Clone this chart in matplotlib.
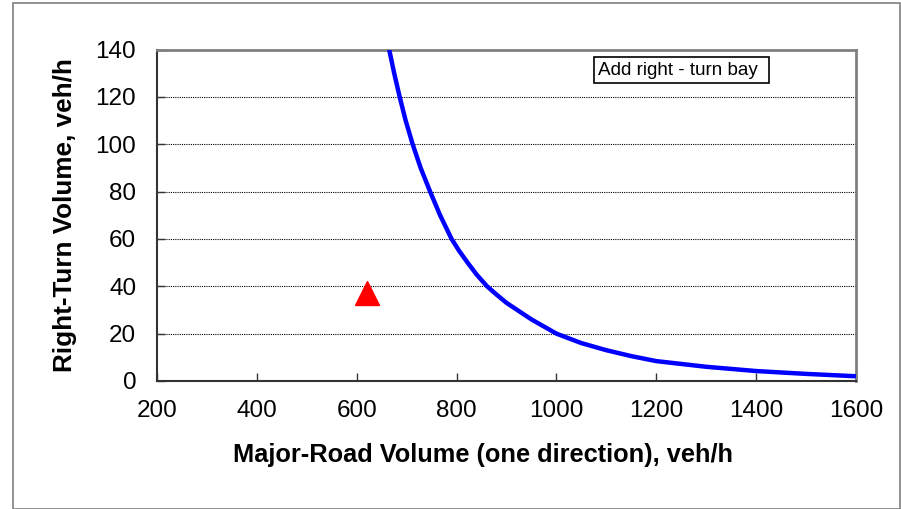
import matplotlib
matplotlib.use("Agg")
import matplotlib.pyplot as plt
from matplotlib.patches import Rectangle

plt.rcParams['font.family'] = ['Liberation Sans', 'DejaVu Sans']

# warrant curve
major_volume = [665, 675, 686, 698, 712, 728, 747, 767, 790, 805, 822, 840,
                861, 880, 900, 925, 950, 975, 1000, 1050, 1100, 1150, 1200,
                1300, 1400, 1500, 1600]
right_turn_volume = [140, 130, 120, 110, 100, 90, 80, 70, 60, 55, 50, 45,
                     40, 36.5, 33, 29.5, 26, 23, 20, 16, 13, 10.5, 8.4,
                     6.0, 4.2, 3.0, 2.0]

# observed site
site_major = [620]
site_right = [37]

x_ticks = [200, 400, 600, 800, 1000, 1200, 1400, 1600]
y_ticks = [0, 20, 40, 60, 80, 100, 120, 140]

fig = plt.figure(figsize=(9.01, 5.09), dpi=100)
ax = fig.add_axes([0.1743, 0.2515, 0.7757, 0.6512])

# outer chart frame
fig.patches.append(Rectangle((13 / 901, 0.0), 887 / 901, 1 - 3 / 509,
                             transform=fig.transFigure, fill=False,
                             edgecolor='#808080', linewidth=1.2))

ax.plot(major_volume, right_turn_volume, color='#0000FF', linewidth=3.2,
        solid_capstyle='butt', solid_joinstyle='round', zorder=3)
ax.plot(site_major, site_right, linestyle='none', marker='^', markersize=17,
        color='#FF0000', markeredgecolor='#FF0000', zorder=4)

ax.set_xlim(200, 1600)
ax.set_ylim(0, 140)
ax.set_xticks(x_ticks)
ax.set_yticks(y_ticks)
ax.tick_params(axis='both', direction='in', length=6, width=1,
               labelsize=17.5, color='#333333')
ax.tick_params(axis='x', pad=14)
ax.tick_params(axis='y', pad=15)

ax.yaxis.grid(True, color='black', linestyle=(0, (1, 1)), linewidth=0.8)
ax.set_axisbelow(True)

for side in ['left', 'bottom']:
    ax.spines[side].set_color('#333333')
    ax.spines[side].set_linewidth(1.5)
for side in ['top', 'right']:
    ax.spines[side].set_color('#808080')
    ax.spines[side].set_linewidth(2)

ax.set_xlabel('Major-Road Volume (one direction), veh/h',
              fontsize=18.3, fontweight='bold', va='center')
ax.set_ylabel('Right-Turn Volume, veh/h',
              fontsize=18.8, fontweight='bold', va='center')
ax.xaxis.set_label_coords(0.466, -0.223)
ax.yaxis.set_label_coords(-0.1316, 0.5)

# note box in the upper right
ax.add_patch(Rectangle(((594 - 157) / 699, (381 - 83) / 331.5),
                       175 / 699, 26 / 331.5, transform=ax.transAxes,
                       facecolor='white', edgecolor='black', linewidth=1.2,
                       zorder=5))
ax.text((598 - 157) / 699, (381 - 70) / 331.5, 'Add right - turn bay',
        transform=ax.transAxes, fontsize=13.6, ha='left', va='center',
        zorder=6)

fig.savefig('out.png', dpi=100)
